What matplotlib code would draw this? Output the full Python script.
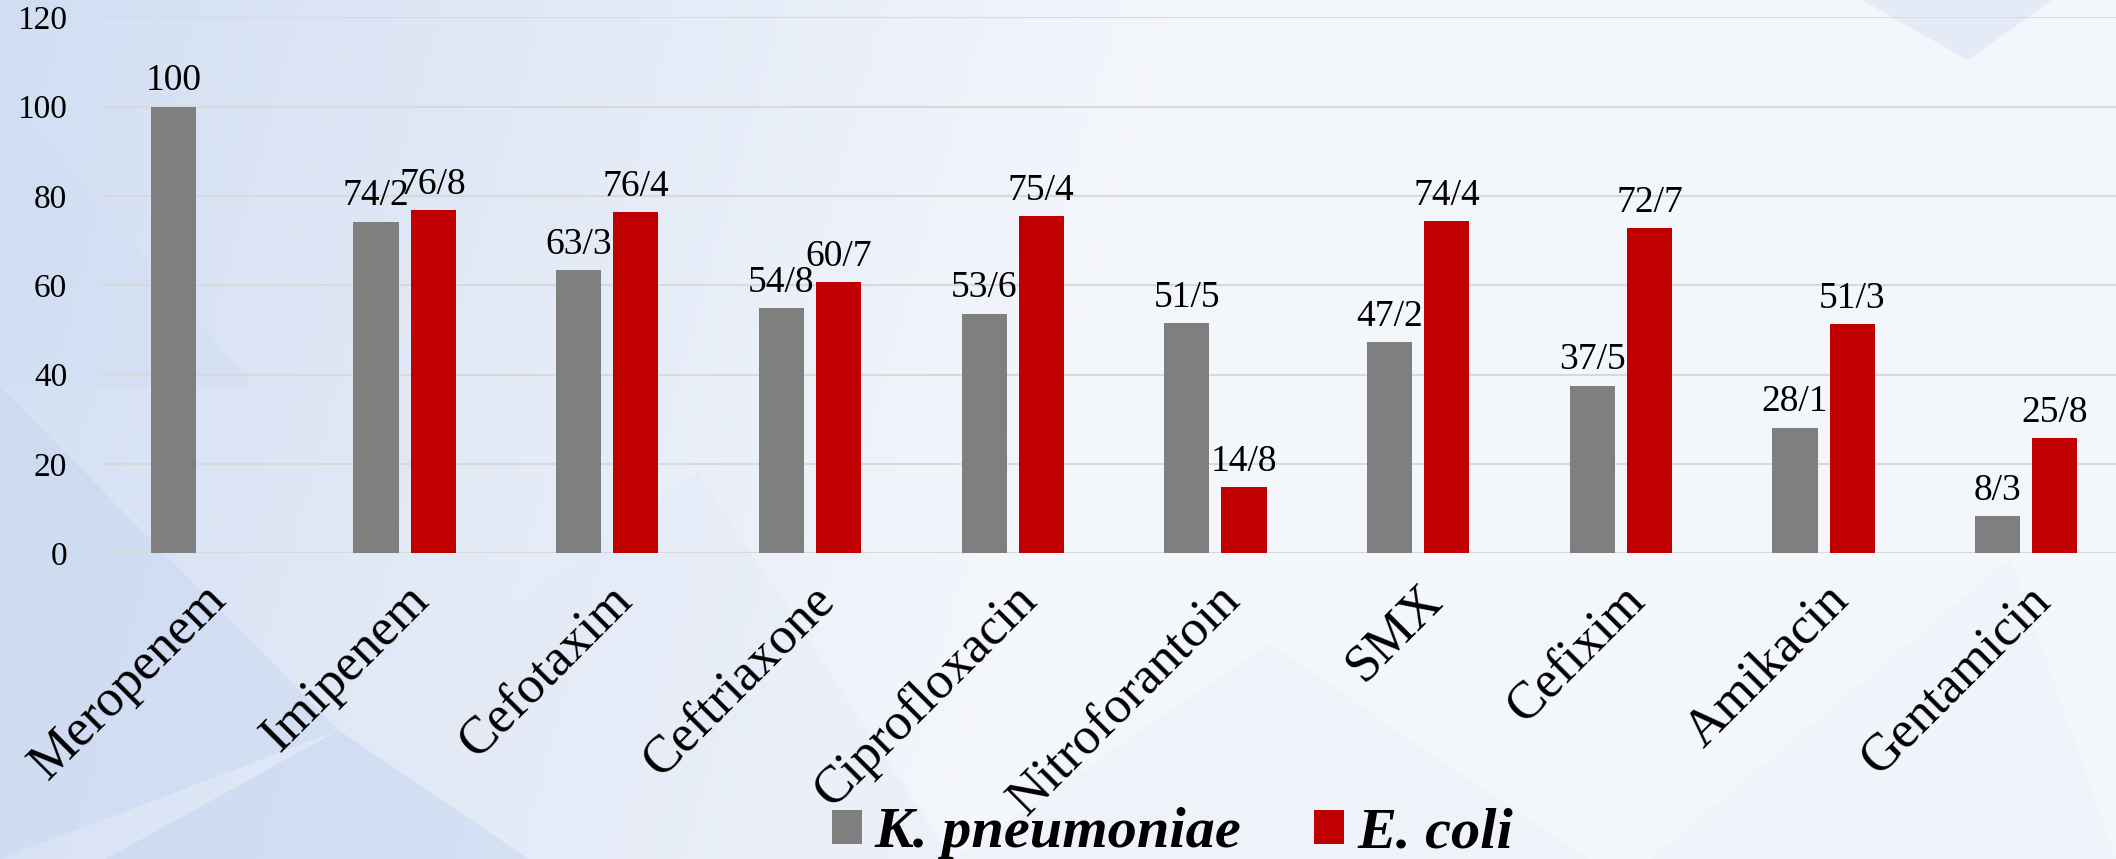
import numpy as np
import matplotlib
matplotlib.use("Agg")
import matplotlib.pyplot as plt
from matplotlib.patches import Polygon, Patch

categories = ["Meropenem", "Imipenem", "Cefotaxim", "Ceftriaxone", "Ciprofloxacin",
              "Nitroforantoin", "SMX", "Cefixim", "Amikacin", "Gentamicin"]
k_pneumoniae = [100, 74.2, 63.3, 54.8, 53.6, 51.5, 47.2, 37.5, 28.1, 8.3]
e_coli = [None, 76.8, 76.4, 60.7, 75.4, 14.8, 74.4, 72.7, 51.3, 25.8]
series_names = ["K. pneumoniae", "E. coli"]
y_ticks = [0, 20, 40, 60, 80, 100, 120]

GREY = "#7F7F7F"
RED = "#C00000"
SERIF = ["Liberation Serif", "DejaVu Serif"]
plt.rcParams["font.family"] = SERIF

fig = plt.figure(figsize=(21.16, 8.59), dpi=100)

# background
bg = fig.add_axes([0, 0, 1, 1], zorder=-10)
bg.set_xlim(0, 1); bg.set_ylim(0, 1); bg.axis("off")
xx = np.linspace(0, 1, 400)
yy = np.linspace(0, 1, 200)
X, Y = np.meshgrid(xx, yy)
t = np.clip(X * 1.8 + (1 - Y) * 0.2, 0, 1)
c0 = np.array([0.82, 0.87, 0.95]); c1 = np.array([0.955, 0.965, 0.985])
img = c0[None, None, :] * (1 - t[..., None]) + c1[None, None, :] * t[..., None]
bg.imshow(img, extent=[0, 1, 0, 1], origin="lower", aspect="auto")
polys = [
    ([(0, 0.55), (0.16, 0.15), (0, 0.0)], "#C5D5F0", 0.45),
    ([(0.05, 0.0), (0.16, 0.15), (0.25, 0.0)], "#BFD0EE", 0.45),
    ([(0.16, 0.15), (0.33, 0.45), (0.45, 0.0), (0.25, 0.0)], "#E2E9F6", 0.35),
    ([(0.0, 0.9), (0.12, 0.55), (0.0, 0.55)], "#D0DCF2", 0.4),
    ([(0.45, 0.0), (0.60, 0.25), (0.75, 0.0)], "#EAEFF8", 0.35),
    ([(0.88, 1.0), (0.93, 0.93), (0.97, 1.0)], "#DDE5F4", 0.6),
    ([(0.78, 0.0), (0.95, 0.35), (1.0, 0.0)], "#ECF0F8", 0.35),
]
for pts, col, a in polys:
    bg.add_patch(Polygon(pts, closed=True, facecolor=col, edgecolor="none", alpha=a))

ax = fig.add_axes([0.0475, 0.356, 0.958, 0.624])
ax.set_facecolor("none")
x = np.arange(len(categories))
w = 0.223
off = 0.141

kv = np.array(k_pneumoniae, dtype=float)
ev = np.array([np.nan if v is None else v for v in e_coli], dtype=float)
b1 = ax.bar(x - off, kv, w, color=GREY, zorder=3)
b2 = ax.bar(x + off, np.nan_to_num(ev), w, color=RED, zorder=3)


def fmt(v):
    if float(v).is_integer():
        return str(int(v))
    return f"{v:.1f}".replace(".", "/")


for xi, v in zip(x - off, kv):
    ax.annotate(fmt(v), (xi, v), xytext=(0, 6), textcoords="offset points",
                ha="center", va="bottom", fontsize=27, color="black", zorder=5)
for xi, v in zip(x + off, ev):
    if np.isnan(v):
        continue
    ax.annotate(fmt(v), (xi, v), xytext=(0, 6), textcoords="offset points",
                ha="center", va="bottom", fontsize=27, color="black", zorder=5)

ax.set_xlim(-0.5, len(categories) - 0.5)
ax.set_ylim(0, 120)
ax.set_yticks(y_ticks)
ax.set_yticklabels([str(v) for v in y_ticks], fontsize=24)
ax.yaxis.grid(True, color="#D9D9D9", linewidth=1.5, zorder=0)
ax.set_axisbelow(True)
ax.set_xticks(x)
ax.set_xticklabels(categories, rotation=45, ha="right", va="top",
                   rotation_mode="anchor", fontsize=38)
ax.tick_params(axis="both", length=0)
ax.tick_params(axis="y", pad=24)
ax.tick_params(axis="x", pad=16)
for s in ax.spines.values():
    s.set_visible(False)

handles = [Patch(facecolor=GREY), Patch(facecolor=RED)]
leg = fig.legend(handles, series_names, loc="center", bbox_to_anchor=(0.554, 0.03),
                 ncol=2, frameon=False, handlelength=0.52, handleheight=0.52,
                 handletextpad=0.22, columnspacing=1.24,
                 prop={"family": SERIF, "size": 42, "weight": "bold", "style": "italic"})

fig.savefig("out.png", dpi=100)
